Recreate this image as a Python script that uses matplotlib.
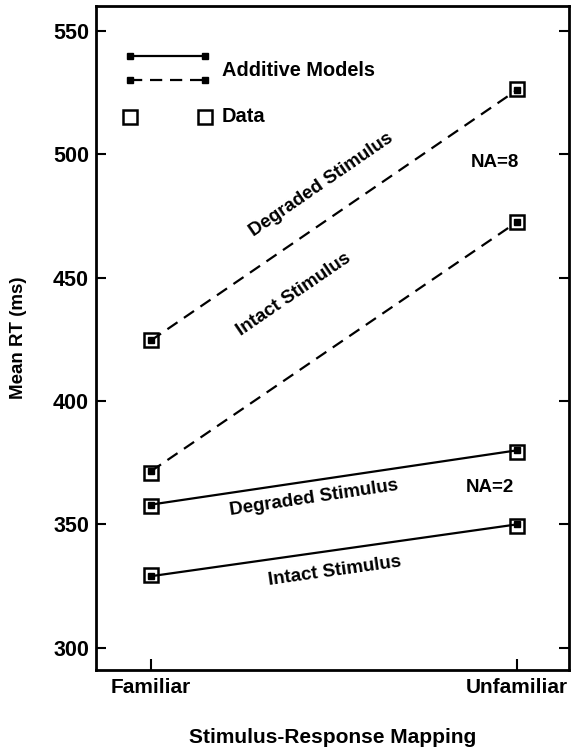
import numpy as np
import matplotlib
matplotlib.use("Agg")
import matplotlib.pyplot as plt

plt.rcParams["font.family"] = ["Liberation Sans", "DejaVu Sans"]
plt.rcParams["font.weight"] = "bold"

# mapping conditions on the x axis
mapping = ["Familiar", "Unfamiliar"]
# observed mean RTs (ms)
data_na8_degraded = [424.5, 526.5]
data_na8_intact = [371.0, 472.5]
data_na2_degraded = [357.5, 379.5]
data_na2_intact = [329.5, 349.5]
# additive model predictions
model_na8_degraded = [424.5, 526.0]
model_na8_intact = [371.5, 472.5]
model_na2_degraded = [358.0, 380.0]
model_na2_intact = [329.0, 350.0]

yticks = [300, 350, 400, 450, 500, 550]

DASH = (0, (5.5, 3.5))


def main():
    fig = plt.figure(figsize=(5.71, 7.54), dpi=100)
    ax = fig.add_axes([96 / 571, 84 / 754, 473 / 571, 664 / 754])
    x = np.arange(len(mapping))

    # model lines: solid for NA=2, dashed for NA=8
    for vals, ls in [(model_na8_degraded, DASH), (model_na8_intact, DASH),
                     (model_na2_degraded, "-"), (model_na2_intact, "-")]:
        ax.plot(x, vals, color="black", lw=1.6, linestyle=ls, marker="s",
                markersize=4.5, markerfacecolor="black", zorder=3)
    # observed data as open squares
    for vals in [data_na8_degraded, data_na8_intact, data_na2_degraded, data_na2_intact]:
        ax.plot(x, vals, linestyle="none", marker="s", markersize=10,
                markerfacecolor="none", markeredgecolor="black", markeredgewidth=1.8, zorder=4)

    ax.set_xlim(-0.15, 1.142)
    ax.set_ylim(291, 560)
    ax.set_xticks(x)
    ax.set_xticklabels(mapping, fontsize=15, fontweight="bold")
    ax.set_yticks(yticks)
    ax.set_yticklabels([str(v) for v in yticks], fontsize=15.5, fontweight="bold")
    ax.tick_params(axis="y", direction="in", length=7, width=1.5, right=True, left=True, pad=5)
    ax.tick_params(axis="x", direction="in", length=8, width=1.5, pad=6)
    for sp in ax.spines.values():
        sp.set_linewidth(2)

    ax.set_ylabel("Mean RT (ms)", fontsize=13.5, fontweight="bold")
    ax.yaxis.set_label_coords(-0.145, 0.5)
    ax.set_xlabel("Stimulus-Response Mapping", fontsize=15, fontweight="bold", va="top")
    ax.xaxis.set_label_coords(0.5, -0.088)

    # line labels
    kw = dict(fontsize=13.5, fontweight="bold", ha="center", va="center")
    ax.text(0.465, 487.5, "Degraded Stimulus", rotation=34.5, **kw)
    ax.text(0.39, 443, "Intact Stimulus", rotation=34.3, **kw)
    ax.text(0.445, 360.5, "Degraded Stimulus", rotation=8.5, **kw)
    ax.text(0.503, 331, "Intact Stimulus", rotation=8, **kw)
    ax.text(0.94, 496.8, "NA=8", **kw)
    ax.text(0.925, 364.8, "NA=2", **kw)

    # legend drawn by hand in axes coordinates
    lx = [(130 - 96) / 473, (205 - 96) / 473]
    ax.plot(lx, [1 - (56 - 6) / 664] * 2, transform=ax.transAxes, color="black", lw=1.6,
            marker="s", markersize=4.5)
    ax.plot(lx, [1 - (80 - 6) / 664] * 2, transform=ax.transAxes, color="black", lw=1.6,
            linestyle=DASH, marker="s", markersize=4.5)
    ax.plot(lx, [1 - (117 - 6) / 664] * 2, transform=ax.transAxes, linestyle="none",
            marker="s", markersize=10, markerfacecolor="none", markeredgecolor="black",
            markeredgewidth=1.8)
    ax.text((222 - 96) / 473, 1 - (70 - 6) / 664, "Additive Models", transform=ax.transAxes,
            fontsize=14.4, fontweight="bold", va="center")
    ax.text((222 - 96) / 473, 1 - (117 - 6) / 664, "Data", transform=ax.transAxes,
            fontsize=14.4, fontweight="bold", va="center")

    fig.savefig("out.png", dpi=100)


if __name__ == "__main__":
    main()
